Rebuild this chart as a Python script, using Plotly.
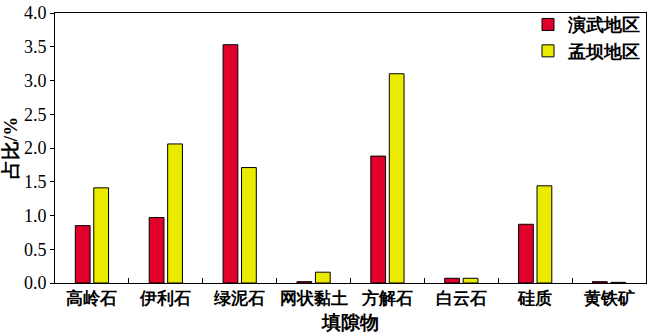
import plotly.graph_objects as go

categories = ["高岭石", "伊利石", "绿泥石", "网状黏土", "方解石", "白云石", "硅质", "黄铁矿"]
yanwu = [0.85, 0.97, 3.53, 0.02, 1.88, 0.07, 0.87, 0.02]
mengba = [1.41, 2.06, 1.71, 0.16, 3.10, 0.07, 1.44, 0.01]
y_ticks = [0.0, 0.5, 1.0, 1.5, 2.0, 2.5, 3.0, 3.5, 4.0]
y_ticklabels = ["0.0", "0.5", "1.0", "1.5", "2.0", "2.5", "3.0", "3.5", "4.0"]

font_fam = "Times New Roman, DejaVu Serif, serif"

fig = go.Figure()
fig.add_trace(go.Bar(x=categories, y=yanwu, name="演武地区",
                     marker=dict(color="#e0002a", line=dict(color="black", width=1))))
fig.add_trace(go.Bar(x=categories, y=mengba, name="孟坝地区",
                     marker=dict(color="#ebeb00", line=dict(color="black", width=1))))

fig.update_layout(
    width=650, height=335,
    margin=dict(l=55, r=3, t=6, b=52),
    paper_bgcolor="white", plot_bgcolor="white",
    barmode="group", bargap=0.5, bargroupgap=0.2,
    font=dict(family=font_fam, color="black", size=16),
    legend=dict(x=1.0, y=1.025, xanchor="right", yanchor="top",
                font=dict(size=18, family=font_fam, weight="bold"),
                bgcolor="rgba(0,0,0,0)", itemwidth=30, tracegroupgap=0),
    xaxis=dict(showline=True, linecolor="black", linewidth=1, mirror=True,
               ticks="inside", tickson="boundaries", ticklen=5, tickcolor="black",
               tickangle=0,
               tickfont=dict(size=17, family=font_fam, weight="bold"),
               title=dict(text="填隙物", font=dict(size=19, family=font_fam, weight="bold"), standoff=8)),
    yaxis=dict(range=[0, 4.0], tickvals=y_ticks, ticktext=y_ticklabels,
               showline=True, linecolor="black", linewidth=1, mirror=True,
               ticks="outside", ticklen=4, tickcolor="black", showgrid=False, zeroline=False,
               ticklabeloverflow="allow",
               tickfont=dict(size=18, family=font_fam),
               title=dict(text="占比/%", font=dict(size=19, family=font_fam, weight="bold"), standoff=4)),
)

fig.write_html("out.html")
